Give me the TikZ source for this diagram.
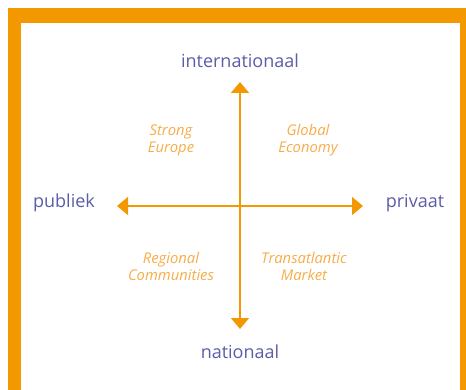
\documentclass[tikz,border=0pt]{standalone}
\usepackage{fontspec}
\setmainfont{Open Sans}
\usetikzlibrary{arrows.meta}
\definecolor{axisorange}{HTML}{F39800}
\definecolor{polepurple}{HTML}{5B5DA8}
\definecolor{quadorange}{HTML}{F6AD4A}
\tikzset{
  pole/.style={text=polepurple, font=\fontsize{18}{21}\selectfont},
  quad/.style={text=quadorange, font=\itshape\fontsize{14.8}{17}\selectfont, align=center},
  axis/.style={draw=axisorange, fill=axisorange, line width=1.6pt,
    {Triangle[width=18pt,length=11pt]}-{Triangle[width=18pt,length=11pt]}}
}
\begin{document}
\begin{tikzpicture}[x=1pt,y=-1pt]
\useasboundingbox (0,0) rectangle (466,390);
\fill[axisorange] (8,8) rectangle (470,395);
\fill[white] (21,23) rectangle (460,395);

\coordinate (top) at (240,82);
\coordinate (bottom) at (240,329);
\coordinate (left) at (117,206);
\coordinate (right) at (363,206);

\draw[axis] (bottom) -- (top);
\draw[axis] (left) -- (right);

\node[pole] (intl) at (240,61) {internationaal};
\node[pole] (natl) at (240,352) {nationaal};
\node[pole] (publ) at (64,203) {publiek};
\node[pole] (priv) at (415,203) {privaat};

\node[quad] (europe) at (171,140) {Strong\\Europe};
\node[quad] (global) at (308,140) {Global\\Economy};
\node[quad] (regional) at (171,266) {Regional\\Communities};
\node[quad] (market) at (304,266) {Transatlantic\\Market};
\end{tikzpicture}
\end{document}
